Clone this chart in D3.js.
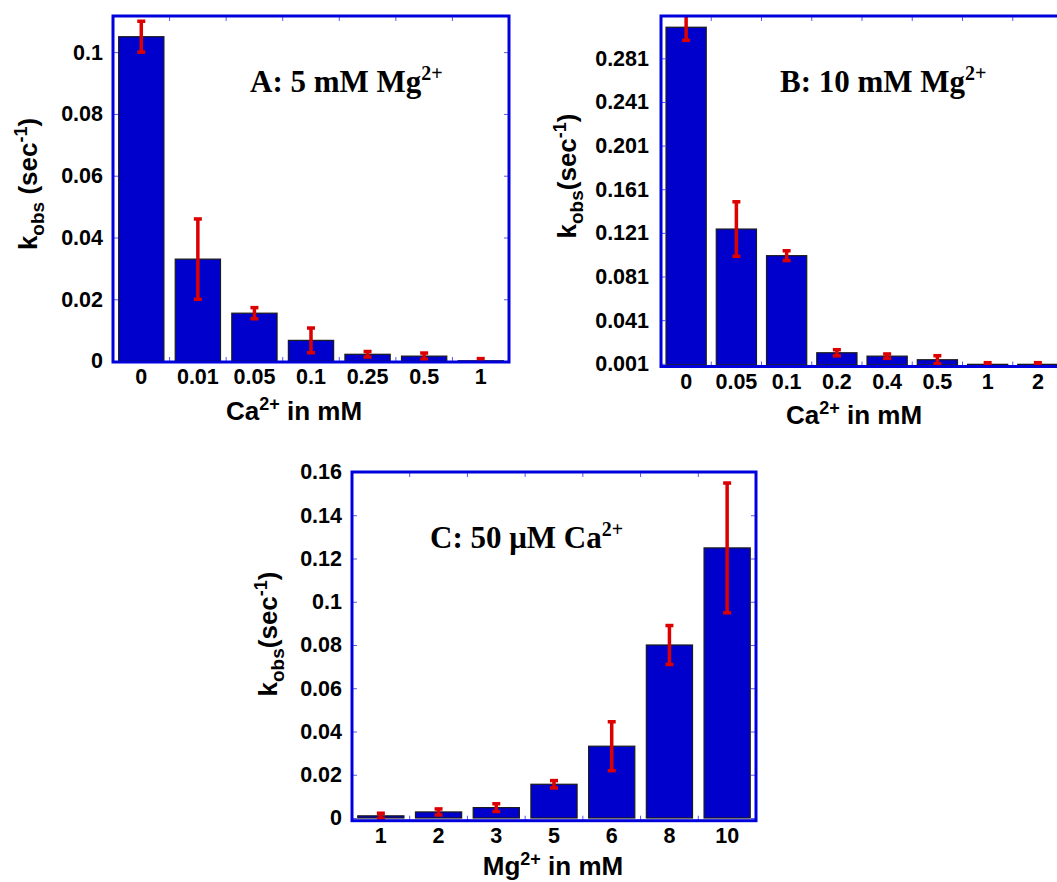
<!DOCTYPE html>
<html>
<head>
<meta charset="utf-8">
<script src="https://cdn.jsdelivr.net/npm/d3@7"></script>
<style>
  body { margin: 0; background: #fff; }
  svg text { font-family: "Liberation Sans", Arial, Helvetica, sans-serif; font-weight: bold; fill: #000; }
  svg text.title { font-family: "Liberation Serif", "Times New Roman", serif; }
</style>
</head>
<body>
<svg id="fig" width="1057" height="882"></svg>
<script>
// Panel A: 5 mM Mg2+, varying Ca2+
var catsA = ["0", "0.01", "0.05", "0.1", "0.25", "0.5", "1"];
var kobsA = [0.105, 0.033, 0.0155, 0.0067, 0.0022, 0.0016, 0.0001];
var errA = [0.005, 0.013, 0.0018, 0.004, 0.0009, 0.001, 0.0007];
var ticksA = [0, 0.02, 0.04, 0.06, 0.08, 0.1];

// Panel B: 10 mM Mg2+, varying Ca2+
var catsB = ["0", "0.05", "0.1", "0.2", "0.4", "0.5", "1", "2"];
var kobsB = [0.3095, 0.1245, 0.1001, 0.0111, 0.008, 0.0047, 0.0005, 0.0005];
var errB = [0.012, 0.025, 0.0045, 0.0028, 0.002, 0.0037, 0.0015, 0.0015];
var ticksB = [0.001, 0.041, 0.081, 0.121, 0.161, 0.201, 0.241, 0.281];

// Panel C: 50 uM Ca2+, varying Mg2+
var catsC = ["1", "2", "3", "5", "6", "8", "10"];
var kobsC = [0.001, 0.0028, 0.0048, 0.0156, 0.0332, 0.080, 0.1249];
var errC = [0.0012, 0.0014, 0.0018, 0.0017, 0.0113, 0.009, 0.030];
var ticksC = [0, 0.02, 0.04, 0.06, 0.08, 0.1, 0.12, 0.14, 0.16];

var svg = d3.select("#fig");
var fmt = function (d) { return d === 0 ? "0" : String(+d.toFixed(3)); };

function drawPanel(p) {
  var g = svg.append("g");

  var x = d3.scaleBand().domain(p.cats).range([p.x0, p.x1])
    .paddingInner(0.2).paddingOuter(0.1);
  var y = d3.scaleLinear().domain(p.yDomain).range([p.y1, p.y0]);

  svg.append("clipPath").attr("id", "clip" + p.id)
    .append("rect")
    .attr("x", p.x0).attr("y", p.y0)
    .attr("width", p.x1 - p.x0).attr("height", p.y1 - p.y0);

  var rows = p.cats.map(function (c, i) { return { c: c, v: p.vals[i], e: p.errs[i] }; });

  // bars
  g.append("g").selectAll("rect").data(rows).join("rect")
    .attr("x", function (d) { return x(d.c); })
    .attr("y", function (d) { return y(d.v); })
    .attr("width", x.bandwidth())
    .attr("height", function (d) { return y(0) - y(d.v); })
    .attr("fill", "#0000cc")
    .attr("stroke", "#1a1a1a")
    .attr("stroke-width", 1.2);

  // error bars
  var eb = g.append("g").attr("clip-path", "url(#clip" + p.id + ")")
    .selectAll("g").data(rows).join("g")
    .attr("transform", function (d) { return "translate(" + (x(d.c) + x.bandwidth() / 2) + ",0)"; });
  eb.append("line")
    .attr("y1", function (d) { return y(d.v + d.e); })
    .attr("y2", function (d) { return y(d.v - d.e); })
    .attr("stroke", "#dd0000").attr("stroke-width", 3.5);
  eb.selectAll("rect").data(function (d) { return [d.v + d.e, d.v - d.e]; }).join("rect")
    .attr("x", -4).attr("width", 8)
    .attr("y", function (v) { return y(v) - 1.75; }).attr("height", 3.5)
    .attr("fill", "#dd0000");

  // inner ticks on left / right
  var left = g.append("g").attr("transform", "translate(" + p.x0 + ",0)")
    .call(d3.axisLeft(y).tickValues(p.ticks).tickSize(-5).tickPadding(p.yPad).tickFormat(fmt));
  left.select(".domain").remove();
  left.selectAll("line").attr("stroke", "#5a5af0");
  left.selectAll("text").style("font-size", "21.5px");

  var right = g.append("g").attr("transform", "translate(" + p.x1 + ",0)")
    .call(d3.axisRight(y).tickValues(p.ticks).tickSize(-5).tickFormat(""));
  right.select(".domain").remove();
  right.selectAll("line").attr("stroke", "#5a5af0");

  // top / bottom ticks at band boundaries
  var gap = (x.step() - x.bandwidth()) / 2;
  var bounds = p.cats.slice(1).map(function (c) { return x(c) - gap; });
  g.append("g").selectAll("line").data(bounds).join("line")
    .attr("x1", function (d) { return d; }).attr("x2", function (d) { return d; })
    .attr("y1", p.y0).attr("y2", p.y0 + 5)
    .attr("stroke", "#5a5af0");
  g.append("g").selectAll("line").data(bounds).join("line")
    .attr("x1", function (d) { return d; }).attr("x2", function (d) { return d; })
    .attr("y1", p.y1).attr("y2", p.y1 - 5)
    .attr("stroke", "#5a5af0");

  // x tick labels
  var bottom = g.append("g").attr("transform", "translate(0," + p.y1 + ")")
    .call(d3.axisBottom(x).tickSize(0).tickPadding(7));
  bottom.select(".domain").remove();
  bottom.selectAll("text").style("font-size", "21.5px");

  // frame
  g.append("rect")
    .attr("x", p.x0).attr("y", p.y0)
    .attr("width", p.x1 - p.x0).attr("height", p.y1 - p.y0)
    .attr("fill", "none").attr("stroke", "#0000dd").attr("stroke-width", 3);

  // panel title
  var t = g.append("text").attr("class", "title")
    .attr("x", p.title.x).attr("y", p.title.y)
    .style("font-size", "31px");
  t.append("tspan").text(p.title.main);
  t.append("tspan").attr("dy", -12).style("font-size", "20px").text("2+");

  // x axis label
  var xl = g.append("text")
    .attr("x", p.xLabel.x).attr("y", p.xLabel.y)
    .attr("text-anchor", "middle").style("font-size", "26px");
  xl.append("tspan").text(p.xLabel.ion);
  xl.append("tspan").attr("dy", -10).style("font-size", "18px").text("2+");
  xl.append("tspan").attr("dy", 10).text(" in mM");

  // y axis label
  var yl = g.append("text")
    .attr("transform", "translate(" + p.yLabel.x + "," + p.yLabel.y + ") rotate(-90)")
    .attr("text-anchor", "middle").style("font-size", "26px");
  yl.append("tspan").text("k");
  yl.append("tspan").attr("dy", 7).style("font-size", "19px").text("obs");
  yl.append("tspan").attr("dy", -7).text(p.yLabel.space ? " (sec" : "(sec");
  yl.append("tspan").attr("dy", -10).style("font-size", "18px").text("-1");
  yl.append("tspan").attr("dy", 10).text(")");
}

drawPanel({
  id: "A", cats: catsA, vals: kobsA, errs: errA, ticks: ticksA,
  x0: 113, x1: 509, y0: 16, y1: 362, yDomain: [-0.0003, 0.1117], yPad: 10,
  title: { main: "A: 5 mM Mg", x: 250, y: 92 },
  xLabel: { ion: "Ca", x: 294, y: 420 },
  yLabel: { x: 37, y: 184, space: true }
});

drawPanel({
  id: "B", cats: catsB, vals: kobsB, errs: errB, ticks: ticksB,
  x0: 661, x1: 1063, y0: 16, y1: 366.5, yDomain: [-0.0015, 0.3198], yPad: 12,
  title: { main: "B: 10 mM Mg", x: 780, y: 92 },
  xLabel: { ion: "Ca", x: 854, y: 424 },
  yLabel: { x: 576, y: 176, space: false }
});

drawPanel({
  id: "C", cats: catsC, vals: kobsC, errs: errC, ticks: ticksC,
  x0: 352, x1: 756, y0: 472, y1: 820.7, yDomain: [-0.00125, 0.16], yPad: 10,
  title: { main: "C: 50 \u03bcM Ca", x: 430, y: 548 },
  xLabel: { ion: "Mg", x: 553, y: 875 },
  yLabel: { x: 277, y: 634, space: false }
});
</script>
</body>
</html>
